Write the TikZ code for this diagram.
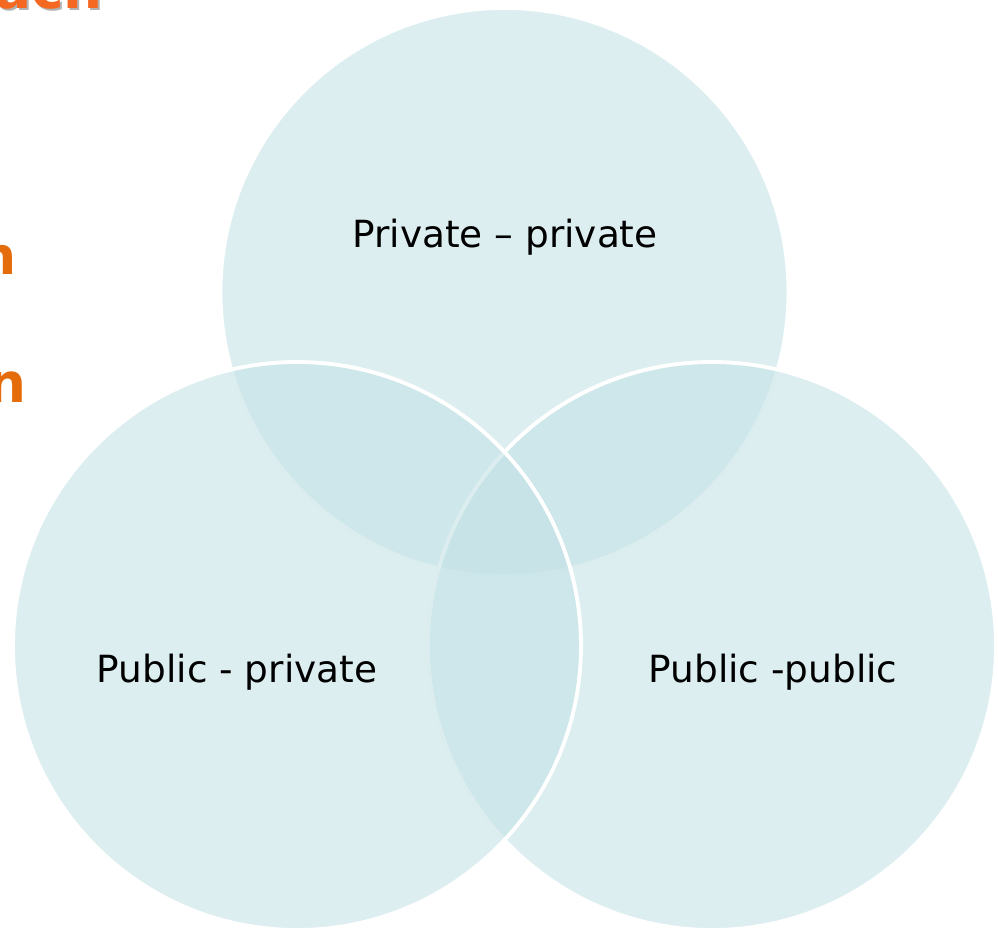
\documentclass[tikz,border=0pt]{standalone}
\usepackage{fontspec}
\setmainfont{DejaVu Sans}
\usepackage{tikz}

\definecolor{vennfill}{RGB}{194,225,229}
\definecolor{titleorange}{RGB}{245,104,33}
\definecolor{textorange}{RGB}{228,108,10}

\tikzset{
    venn/.style={fill=vennfill, fill opacity=0.57, draw=white, line width=1.1pt},
    vennlabel/.style={anchor=base, inner sep=0pt, font=\fontsize{10.65pt}{13pt}\selectfont},
    orangebit/.style={anchor=base east, inner sep=0pt, font=\bfseries\fontsize{14.8pt}{18pt}\selectfont, text=textorange}
}

\begin{document}
\begin{tikzpicture}
    % Page size, everything outside is cut away
    \useasboundingbox (0,0) rectangle (9.98,9.35);
    \clip (0,0) rectangle (9.98,9.35);

    % Ends of the orange title and bullet lines
    \node[orangebit, font=\bfseries\fontsize{15.6pt}{19pt}\selectfont, text=black, opacity=0.3] at (1.055,9.24) {ach};
    \node[orangebit, font=\bfseries\fontsize{15.6pt}{19pt}\selectfont, text=titleorange] (title) at (1.035,9.26) {ach};
    \node[orangebit] (line1) at (0.17,6.60) {n};
    \node[orangebit, font=\bfseries\fontsize{15.6pt}{19pt}\selectfont] (line2) at (0.27,5.32) {n};

    % The three circles, top one first
    \draw[venn] (5.045,6.43) circle (2.84);
    \draw[venn] (7.12,2.89) circle (2.84);
    \draw[venn] (2.97,2.89) circle (2.84);

    % Labels in the circles
    \node[vennlabel] (privpriv) at (5.05,6.87) {Private – private};
    \node[vennlabel] (pubpriv) at (2.37,2.52) {Public - private};
    \node[vennlabel] (pubpub) at (7.73,2.52) {Public -public};
\end{tikzpicture}
\end{document}
